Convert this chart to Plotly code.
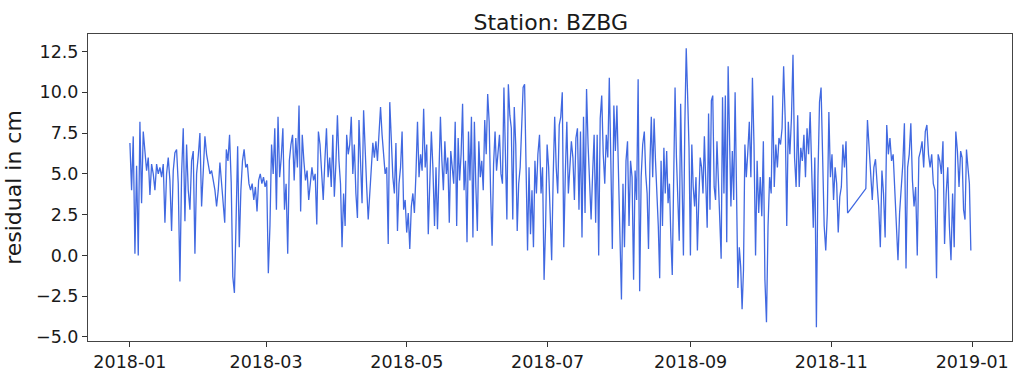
import pandas as pd
import plotly.graph_objects as go

# Residual values (cm), grouped by time segment
seg_start = ["2018-01-01 00:00", "2018-02-11 02:00", "2018-03-28 14:00", "2018-05-13 00:00",
             "2018-06-27 12:00", "2018-08-11 22:00", "2018-09-26 10:00", "2018-11-15 22:00",
             "2018-12-27 00:00"]
seg_end = ["2018-02-09 00:00", "2018-03-27 21:00", "2018-05-12 07:00", "2018-06-26 19:00",
           "2018-08-11 05:00", "2018-09-25 17:00", "2018-11-08 00:00", "2018-12-26 07:00",
           "2018-12-31 10:00"]

seg1 = [6.9, 4.0, 7.3, 0.1, 5.5, 0.0, 8.2, 3.2, 7.6, 6.2, 5.2, 6.0, 3.7, 5.6, 5.0, 4.0, 5.6, 5.0,
        5.4, 4.8, 5.6, 2.0, 5.0, 6.0, 4.6, 1.5, 5.2, 6.3, 6.5, 4.4, -1.6, 5.0, 7.8, 2.1, 6.8, 4.0,
        2.8, 5.8, 6.4, 0.1, 5.0, 6.1, 7.5, 3.0, 5.4, 7.3, 6.2, 5.6, 5.0, 5.2, 4.6, 4.0, 3.0, 4.0,
        5.7]
seg2 = [2.0, 6.5, 5.8, 7.4, 4.5, -1.3, -2.3, 2.0, 6.7, 0.5, 4.0, 5.8, 6.5, 5.4, 5.6, 4.4, 4.0,
        4.4, 3.4, 4.2, 2.7, 4.6, 5.0, 4.4, 4.8, 4.2, 4.6, -1.1, 1.8, 6.8, 5.0, 7.8, 2.8, 8.5, 4.8,
        6.0, 7.8, 2.8, 4.4, 0.1, 5.8, 6.8, 7.4, 4.6, 7.2, 5.4, 9.2, 2.7, 7.4, 5.8, 4.6, 5.2, 3.4,
        4.4, 5.4, 4.6, 5.0, 1.9, 7.6, 6.8, 4.8, 3.4, 5.8, 7.8, 4.8]
seg3 = [6.0, 4.2, 7.4, 3.6, 5.6, 8.6, 5.8, 4.4, 0.5, 3.8, 1.8, 7.4, 6.2, 6.8, 8.5, 5.0, 6.8, 3.8,
        2.3, 8.3, 5.6, 3.2, 8.9, 6.2, 4.2, 2.2, 4.0, 5.8, 6.9, 6.0, 7.0, 5.8, 7.8, 9.1, 7.4, 6.2,
        5.0, 5.4, 0.7, 9.4, 6.8, 4.8, 3.8, 6.9, 1.5, 4.4, 5.4, 7.6, 2.8, 3.4, 1.4, 2.6, 0.4, 3.0,
        3.8, 2.6, 5.0, 8.2, 4.8, 6.2, 5.2, 9.0, 5.4, 6.8, 1.3, 5.0, 7.6, 5.4]
seg4 = [1.8, 5.4, 1.6, 5.0, 8.5, 5.8, 4.0, 7.0, 5.0, 6.0, 2.0, 6.4, 5.4, 4.4, 8.2, 1.8, 7.2, 4.6,
        6.2, 9.3, 4.0, 5.8, 0.8, 7.6, 4.6, 8.5, 1.1, 8.2, 4.2, 1.5, 7.0, 4.8, 5.8, 4.0, 8.3, 6.2,
        9.9, 8.2, 3.8, 0.6, 5.6, 7.6, 5.2, 6.4, 7.4, 5.0, 4.4, 10.3, 5.2, 2.2, 10.5, 8.6, 7.8, 2.2,
        9.1, 6.8, 1.5, 4.4, 5.4, 7.8, 10.3, 10.5, 5.6, 0.3, 5.4, 1.3, 4.0, 0.5, 5.8, 3.8, 6.2]
seg5 = [7.4, 3.8, 5.4, -1.5, 1.8, 6.8, 5.4, 2.6, -0.3, 4.8, 8.5, 5.4, 3.8, 8.0, 8.5, 10.0, 0.5,
        5.0, 8.2, 3.8, 5.8, 7.0, 6.0, 3.4, 7.2, 7.8, 2.8, 7.6, 1.1, 8.5, 2.6, 10.2, 6.8, 4.4, 2.2,
        5.0, 7.4, 2.0, 7.4, 0.0, 8.4, 9.8, 6.2, 4.4, 7.4, 6.0, 10.9, 5.8, 0.4, 9.2, 6.4, 9.2, 5.8,
        2.4, -2.7, 4.4, 0.5, 5.8, 7.0, 1.8, 5.8, 4.8, -1.5, 5.2, 3.4, 10.8, -2.2, 4.8, 6.8]
seg6 = [7.6, 5.0, 3.8, 0.4, 5.6, 8.5, 4.8, 8.4, 5.8, 4.0, 1.8, -1.4, 5.8, 1.8, 6.6, 3.8, 6.4, 3.2,
        4.4, 1.1, -1.2, 4.6, 10.3, 6.0, 3.8, 0.9, 9.3, 5.4, 0.0, 8.0, 12.7, 9.8, 6.6, 0.0, 6.8, 4.2,
        3.0, 4.8, 0.3, 3.4, 6.0, 5.4, 3.8, 7.3, 4.2, 1.7, 8.7, 2.8, 9.5, 9.8, 4.2, 3.4, 7.0, 4.2,
        2.0, -0.2, 9.7, 3.8, 9.8, 0.8, 11.6, 6.2, 3.0, 6.4, 3.4, 10.0, 5.2, -2.0, 0.5, -0.7, -3.3,
        -0.9, 6.8, 4.8, 6.2]
seg7 = [8.2, 4.8, 10.9, 6.8, 0.0, 5.8, 2.6, 4.8, 2.4, 7.0, -1.5, -4.1, 1.8, 4.8, 3.8, 9.8, 4.2,
        6.8, 5.4, 7.2, 6.8, 7.8, 11.6, 8.4, 1.8, 8.2, 6.2, 8.4, 12.3, 6.0, 4.2, 8.6, 4.2, 6.6, 5.8,
        7.4, 4.8, 7.8, 6.2, 8.8, 5.4, 1.7, 6.0, -4.4, 4.8, 9.4, 10.3, 4.8, 1.8, 0.3, 2.6, 8.8, 4.8,
        6.2, 3.4, 5.4, 4.4, 1.4, 3.6, 4.2, 6.8, 5.4, 7.0, 2.6]
seg8 = [4.1, 8.3, 6.8, 4.8, 3.4, 5.4, 5.9, 4.4, 3.0, 0.5, 5.2, 3.8, 1.1, 8.0, 6.2, 7.2, 5.8, 6.2,
        3.8, 1.8, -0.3, 2.6, 4.2, 5.6, 8.1, -0.8, 5.4, 6.2, 8.1, 4.6, 3.0, 4.2, 0.0, 6.0, 6.4, 7.0,
        5.4, 7.6, 8.0, 6.2, 5.4, 6.2, 4.4, 4.0, -1.4, 6.2, 5.8, 5.0, 7.0, 0.7, 3.8, 5.4, 1.8, -0.3,
        3.8, 0.5, 7.6, 6.4, 4.2]
seg9 = [6.4, 6.0, 2.8, 2.2, 6.5, 5.4, 4.4, 0.3]

segments = [seg1, seg2, seg3, seg4, seg5, seg6, seg7, seg8, seg9]

x_tick_vals = ["2018-01-01", "2018-03-01", "2018-05-01", "2018-07-01", "2018-09-01",
               "2018-11-01", "2019-01-01"]
x_tick_text = ["2018-01", "2018-03", "2018-05", "2018-07", "2018-09", "2018-11", "2019-01"]
y_tick_vals = [-5.0, -2.5, 0.0, 2.5, 5.0, 7.5, 10.0, 12.5]
y_tick_text = ["\u22125.0", "\u22122.5", "0.0", "2.5", "5.0", "7.5", "10.0", "12.5"]

times = []
values = []
for s, e, seg in zip(seg_start, seg_end, segments):
    times.extend(list(pd.date_range(s, e, periods=len(seg))))
    values.extend(seg)

fig = go.Figure()
fig.add_trace(go.Scatter(x=times, y=values, mode="lines",
                         line=dict(color="#4169E1", width=1.3), showlegend=False))

font_family = "DejaVu Sans"
fig.update_layout(
    width=1014, height=373,
    margin=dict(l=88, r=1, t=34, b=27),
    paper_bgcolor="white", plot_bgcolor="white",
    font=dict(family=font_family, color="#1a1a1a"),
    title=dict(text="Station: BZBG", x=0.5431, xanchor="center", y=0.94, yanchor="middle",
               font=dict(size=22, family=font_family, color="#1a1a1a")),
)
fig.update_xaxes(
    range=["2017-12-13 20:00", "2019-01-18 06:00"],
    tickmode="array", tickvals=x_tick_vals, ticktext=x_tick_text,
    ticks="outside", ticklen=5, tickwidth=1, tickcolor="#333",
    showline=True, linecolor="#444", linewidth=1, mirror=True,
    showgrid=False, zeroline=False,
    tickfont=dict(size=17.5, family=font_family, color="#1a1a1a"),
)
fig.update_yaxes(
    range=[-5.25, 13.58],
    tickmode="array", tickvals=y_tick_vals, ticktext=y_tick_text,
    ticks="outside", ticklen=5, tickwidth=1, tickcolor="#333",
    showline=True, linecolor="#444", linewidth=1, mirror=True,
    showgrid=False, zeroline=False,
    tickfont=dict(size=17.5, family=font_family, color="#1a1a1a"),
    title=dict(text="residual in cm", standoff=8,
               font=dict(size=22, family=font_family, color="#1a1a1a")),
)

fig.write_html("out.html")
